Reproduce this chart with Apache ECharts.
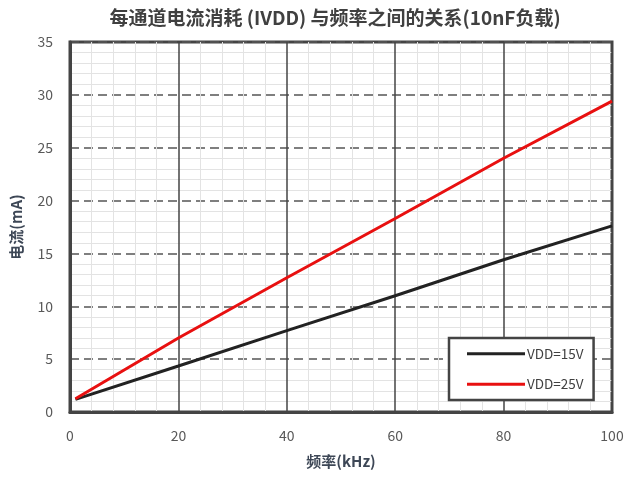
<!DOCTYPE html>
<html>
<head>
<meta charset="utf-8">
<script src="https://cdn.jsdelivr.net/npm/echarts@6/dist/echarts.min.js"></script>
<style>html,body{margin:0;padding:0;background:#fff;}#c{width:627px;height:479px;}</style>
</head>
<body>
<div id="c"></div>
<script>
const titleText = '每通道电流消耗 (IVDD) 与频率之间的关系(10nF负载)';
const xName = '频率(kHz)';
const yName = '电流(mA)';
const freq = [1, 20, 40, 60, 80, 100];
const vdd15 = [1.2, 4.35, 7.7, 11.0, 14.4, 17.6];
const vdd25 = [1.25, 7.0, 12.7, 18.3, 24.0, 29.4];
const seriesNames = ['VDD=15V', 'VDD=25V'];

const chart = echarts.init(document.getElementById('c'));
const font = '"Noto Sans CJK SC", "Noto Sans", sans-serif';
chart.setOption({
  animation: false,
  title: {
    text: titleText, left: 330, textAlign: 'center', top: 3,
    textStyle: { fontFamily: font, fontSize: 19, fontWeight: 'bold', color: '#404040' }
  },
  grid: { left: 70, right: 15, top: 42, bottom: 67, show: true, borderColor: '#444', borderWidth: 3, backgroundColor: 'transparent' },
  legend: {
    orient: 'vertical', left: 449, top: 338,
    backgroundColor: '#fff', borderColor: '#444', borderWidth: 2.5,
    padding: [9, 10, 9, 18], itemGap: 17,
    itemWidth: 58, itemHeight: 3, icon: 'rect',
    textStyle: { fontFamily: font, fontSize: 13.5, color: '#404040', padding: [0,0,0,-3] },
    data: seriesNames
  },
  xAxis: {
    type: 'value', min: 0, max: 100, interval: 20,
    name: xName, nameLocation: 'middle', nameGap: 42,
    nameTextStyle: { fontFamily: font, fontSize: 15, fontWeight: 'bold', color: '#3d4756' },
    axisLine: { show: true, lineStyle: { color: '#444', width: 3 } },
    axisTick: { show: false },
    axisLabel: { fontFamily: font, fontSize: 14, color: '#595959', margin: 17 },
    splitLine: { show: true, lineStyle: { color: '#444', width: 1.5, type: 'solid' } },
    minorTick: { show: false, splitNumber: 5 },
    minorSplitLine: { show: true, lineStyle: { color: '#e3e3e3', width: 1 } }
  },
  yAxis: {
    type: 'value', min: 0, max: 35, interval: 5,
    name: yName, nameLocation: 'middle', nameGap: 46, nameRotate: 90,
    nameTextStyle: { fontFamily: font, fontSize: 15, fontWeight: 'bold', color: '#3d4756' },
    axisLine: { show: true, lineStyle: { color: '#444', width: 3 } },
    axisTick: { show: false },
    axisLabel: { fontFamily: font, fontSize: 14, color: '#595959', margin: 17 },
    splitLine: { show: true, lineStyle: { color: '#555', width: 1.5, type: [9, 5] } },
    minorTick: { show: false, splitNumber: 5 },
    minorSplitLine: { show: true, lineStyle: { color: '#e3e3e3', width: 1 } }
  },
  series: [
    { name: seriesNames[0], type: 'line', symbol: 'none', data: freq.map((f,i)=>[f, vdd15[i]]), lineStyle: { color: '#222', width: 3 }, itemStyle: { color: '#222' } },
    { name: seriesNames[1], type: 'line', symbol: 'none', data: freq.map((f,i)=>[f, vdd25[i]]), lineStyle: { color: '#e81010', width: 3 }, itemStyle: { color: '#e81010' } }
  ]
});
</script>
</body>
</html>
